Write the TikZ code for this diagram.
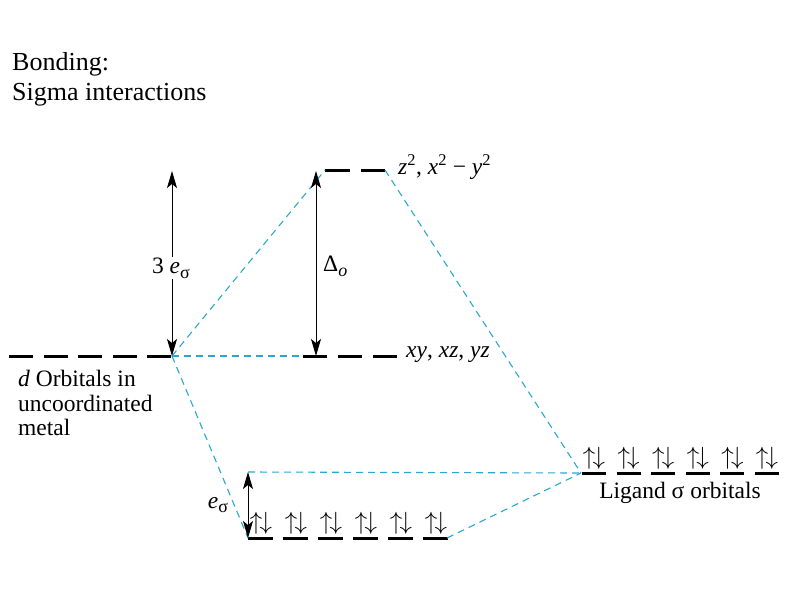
\documentclass[tikz,border=0pt]{standalone}
\usepackage{fontspec}
\setmainfont{Liberation Serif}
\usetikzlibrary{arrows.meta}
\definecolor{bl}{RGB}{40,168,210}
\begin{document}
\begin{tikzpicture}[x=1pt,y=-1pt,
 level/.style={line width=3pt},
 conn/.style={bl, dash pattern=on 7pt off 5pt, line width=1.1pt},
 dim/.style={line width=1pt, {Stealth[length=17pt,width=10pt,inset=4pt]}-{Stealth[length=17pt,width=10pt,inset=4pt]}},
 lbl/.style={font=\fontsize{23.5}{24.5}\selectfont, inner sep=0pt},
 head/.style={font=\fontsize{26}{30}\selectfont, inner sep=0pt, align=left},
 pair/.style={font=\fontsize{26}{26}\selectfont, inner sep=0pt}]
\useasboundingbox (0,0) rectangle (800,600);

% heading
\node[head, anchor=north west] (title) at (12,52) {Bonding:\\Sigma interactions};

% d orbitals of metal
\foreach \i in {0,...,4} {
  \draw[level] ({9+34.6*\i},356) -- ({33+34.6*\i},356);
}
\coordinate (dL) at (172,356);
\node[lbl, anchor=north west, align=left] (dlab) at (18,370)
  {\textit{d} Orbitals in\\uncoordinated\\metal};

% eg level
\coordinate (egL) at (325,170);
\coordinate (egR) at (385,170);
\draw[level] (egL) -- (350,170);
\draw[level] (361,170) -- (egR);
\node[lbl, anchor=west] (eglab) at (398,167)
  {\textit{z}\textsuperscript{2}, \textit{x}\textsuperscript{2} − \textit{y}\textsuperscript{2}};

% t2g level
\coordinate (t2L) at (303,356);
\foreach \i in {0,1,2} {
  \draw[level] ({303+35*\i},356) -- ({327+35*\i},356);
}
\node[lbl, anchor=west] (t2lab) at (406,355) {\textit{xy}, \textit{xz}, \textit{yz}};

% ligand orbitals
\coordinate (ligL) at (581,473);
\foreach \i in {0,...,5} {
  \draw[level] ({582+34.6*\i},473) -- ({606+34.6*\i},473);
  \node[pair] (lp\i) at ({594+34.6*\i},458) {$\uparrow\mkern-2mu\downarrow$};
}
\node[lbl] (liglab) at (680,493) {Ligand σ orbitals};

% bonding level
\coordinate (bL) at (248,538);
\coordinate (bR) at (447,538);
\foreach \i in {0,...,5} {
  \draw[level] ({248+35*\i},538) -- ({273+35*\i},538);
  \node[pair] (bp\i) at ({261+35*\i},523) {$\uparrow\mkern-2mu\downarrow$};
}

% blue correlation lines
\coordinate (eT) at (248,472);
\draw[conn] (dL) -- (egL);
\draw[conn] (dL) -- (t2L);
\draw[conn] (dL) -- (bL);
\draw[conn] (egR) -- (ligL);
\draw[conn] (eT) -- (ligL);
\draw[conn] (bR) -- (ligL);

% energy arrows
\coordinate (top3) at (172,171);
\coordinate (dB) at (172,356);
\draw[dim] (top3) -- (dB);
\node[lbl, fill=white, inner sep=1pt] (l3e) at (171,268)
  {3 \textit{e}\raisebox{-0.45ex}{\fontsize{18}{18}\selectfont σ}};

\coordinate (doT) at (316,171);
\coordinate (doB) at (316,356);
\draw[dim] (doT) -- (doB);
\node[lbl, anchor=west] (ldo) at (323,266)
  {Δ\raisebox{-0.45ex}{\fontsize{18}{18}\selectfont\itshape o}};

\draw[dim] (eT) -- (bL);
\node[lbl] (le) at (218,505)
  {\textit{e}\raisebox{-0.45ex}{\fontsize{18}{18}\selectfont σ}};
\end{tikzpicture}
\end{document}
